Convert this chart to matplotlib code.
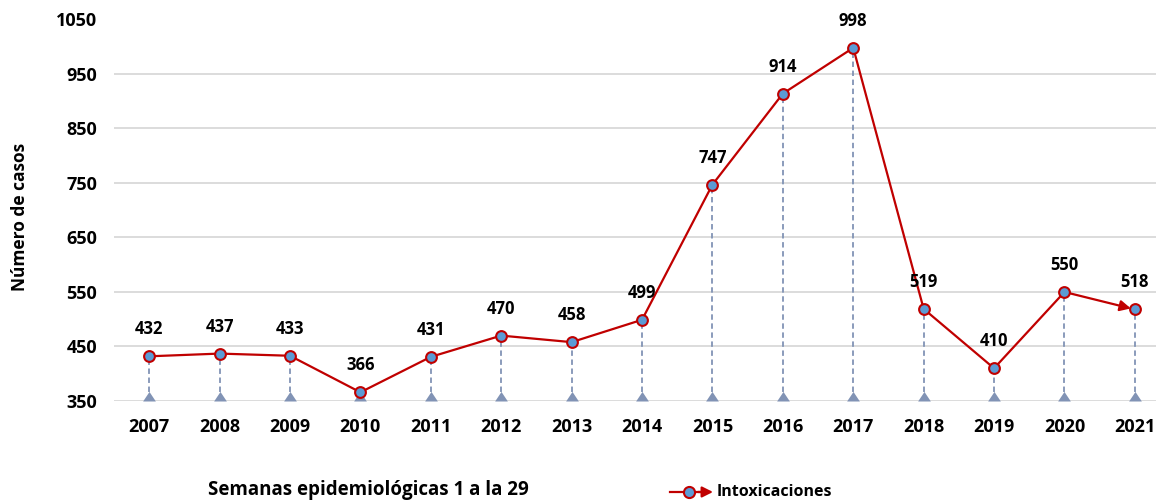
import matplotlib.pyplot as plt
from matplotlib.lines import Line2D

years = ['2007', '2008', '2009', '2010', '2011', '2012', '2013', '2014',
         '2015', '2016', '2017', '2018', '2019', '2020', '2021']
casos = [432, 437, 433, 366, 431, 470, 458, 499, 747, 914, 998, 519, 410, 550, 518]
yticks = [350, 450, 550, 650, 750, 850, 950, 1050]

plt.rcParams['font.family'] = ['Open Sans', 'DejaVu Sans']
rojo = '#c00000'
azul = '#5b9bd5'
gris_azul = '#8193b5'

fig = plt.figure(figsize=(11.56, 5.01), dpi=100)
ax = fig.add_axes([0.0986, 0.1996, 0.9014, 0.7615])
x = list(range(len(years)))

# lineas de cuadricula (sin la de 1050)
for v in yticks[:-1]:
    ax.axhline(v, color='#d9d9d9', lw=1.3, zorder=0)

# lineas de caida y triangulos en la base (triangulo con la base en el origen)
tri = [(-1, 0), (1, 0), (0, 1.5), (-1, 0)]
ax.vlines(x, 350, casos, colors=gris_azul, linestyles=(0, (3, 2)), lw=1.3, zorder=1)
ax.scatter(x, [350]*len(x), marker=tri, s=190, color=gris_azul, linewidths=0,
           zorder=2, clip_on=False)

# serie principal, con flecha en el ultimo tramo
ax.plot(x[:-1], casos[:-1], color=rojo, lw=1.6, zorder=3)
ax.annotate('', xy=(x[-1], casos[-1]), xytext=(x[-2], casos[-2]),
            arrowprops=dict(arrowstyle='-|>', color=rojo, lw=1.6,
                            mutation_scale=16, shrinkA=0, shrinkB=3), zorder=3)
ax.scatter(x, casos, s=60, facecolor=azul, edgecolor=rojo, linewidth=1.5, zorder=4)

for xi, v in zip(x, casos):
    ax.annotate(str(v), (xi, v), xytext=(0, 13), textcoords='offset points',
                ha='center', va='bottom', fontsize=12, fontweight='bold')

ax.set_xlim(-0.5, 14.3)
ax.set_ylim(350, 1050)
ax.set_yticks(yticks)
ax.set_xticks(x)
ax.set_xticklabels(years)
ax.tick_params(axis='both', length=0, labelsize=13, pad=12)
for lab in ax.get_xticklabels() + ax.get_yticklabels():
    lab.set_fontweight('bold')
for s in ax.spines.values():
    s.set_visible(False)

fig.text(20/1156, 0.567, 'Número de casos', rotation=90, fontsize=12.5,
         fontweight='bold', ha='center', va='center')
fig.text(0.18, 0.022, 'Semanas epidemiológicas 1 a la 29', fontsize=13.5,
         fontweight='bold', va='center')

# leyenda dibujada a mano (linea, circulo y punta de flecha)
ly = 0.018
fig.add_artist(Line2D([670/1156, 700/1156], [ly, ly], color=rojo, lw=1.6))
fig.add_artist(Line2D([689/1156], [ly], marker='o', markersize=8,
                      markerfacecolor=azul, markeredgecolor=rojo, markeredgewidth=1.5))
ax.annotate('', xy=(713/1156, ly), xytext=(698/1156, ly), xycoords='figure fraction',
            textcoords='figure fraction',
            arrowprops=dict(arrowstyle='-|>', color=rojo, lw=1.6, mutation_scale=16,
                            shrinkA=0, shrinkB=0), annotation_clip=False)
fig.text(717/1156, ly, 'Intoxicaciones', fontsize=11.5, fontweight='bold', va='center')

fig.savefig('out.png', dpi=100)
